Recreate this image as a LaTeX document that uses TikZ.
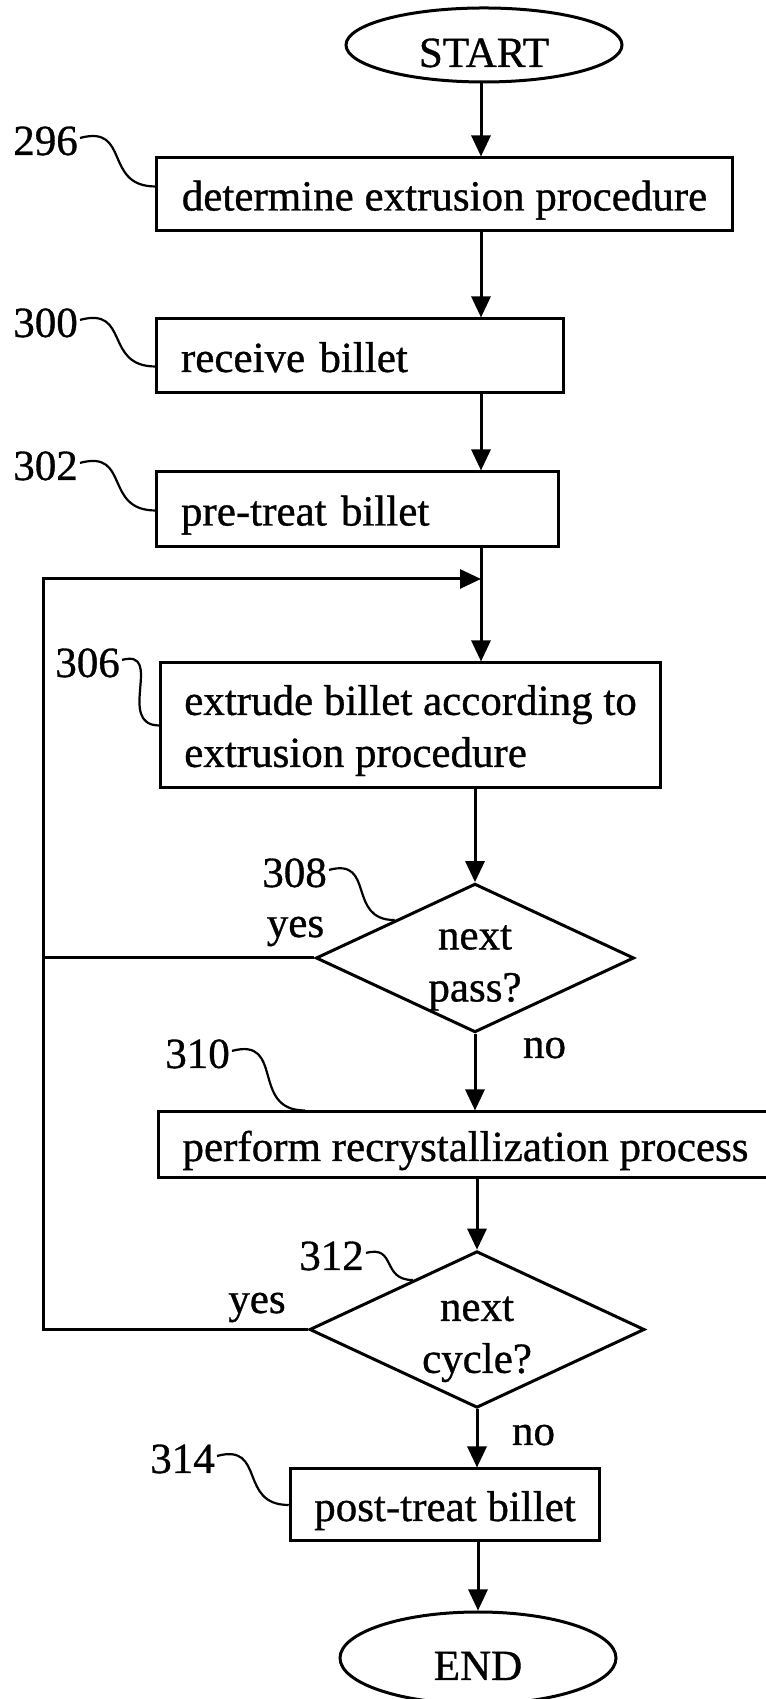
\documentclass[tikz,border=0pt]{standalone}
\usepackage{fontspec}
\setmainfont[FakeBold=0.8]{Liberation Serif}
\usetikzlibrary{shapes.geometric,arrows.meta,calc}
\begin{document}
\begin{tikzpicture}[x=1bp,y=1bp,
  every node/.style={font=\fontsize{43bp}{52bp}\selectfont},
  ln/.style={line width=3bp},
  arr/.style={ln,-{Triangle[length=21bp,width=19bp]}},
  lead/.style={line width=2.2bp},
  box/.style={draw,ln,rectangle,inner xsep=24bp,inner ysep=0bp,text height=32bp,text depth=0bp},
  term/.style={draw,ln,ellipse,inner sep=0bp,minimum width=276bp,text height=44bp,text depth=0bp},
  dec/.style={draw,ln,diamond,aspect=2.14,inner sep=0bp,minimum width=317bp,align=center},
  lbl/.style={inner sep=0bp,anchor=base east},
  ann/.style={inner sep=0bp,anchor=base},
  leadcurve/.style={lead,out=15,in=180,looseness=1.5}]
\useasboundingbox (0,0) rectangle (766,1699);

% main nodes
\node[term,minimum height=74bp] (start) at (484,1654) {START};
\node[box,minimum width=575bp,minimum height=73bp] (b296) at (444.5,1504.5) {determine extrusion procedure};
\node[box,minimum width=406bp,minimum height=74bp,text width=358bp,align=left] (b300) at (360,1343) {receive billet};
\node[box,minimum width=401bp,minimum height=75bp,text width=353bp,align=left] (b302) at (357.5,1189.5) {pre-treat billet};
\node[draw,ln,rectangle,inner xsep=22bp,inner ysep=0bp,minimum width=499bp,minimum height=125bp,align=left] (b306) at (410.5,973.5) {\rule{0pt}{40bp}extrude billet according to\\extrusion procedure};
\node[dec,minimum height=148bp] (d308) at (475,741) {\rule{0pt}{44bp}next\\pass?};
\node[box,anchor=west,minimum height=66bp] (b310) at (157,554) {perform recrystallization process};
\node[dec,minimum height=145bp] (d312) at (477,369.5) {\rule{0pt}{44bp}next\\cycle?};
\node[box,minimum width=306bp,minimum height=72bp] (b314) at (445,194) {post-treat billet};
\node[term,minimum height=92bp] (end) at (478,41) {END};

% reference numerals
\node[lbl] (l296) at (78,1544) {296};
\node[lbl] (l300) at (78,1362) {300};
\node[lbl] (l302) at (78,1219) {302};
\node[lbl] (l306) at (120,1022) {306};
\node[lbl] (l308) at (327,812) {308};
\node[lbl] (l310) at (230,631) {310};
\node[lbl] (l312) at (364,429) {312};
\node[lbl] (l314) at (215,226) {314};

% branch labels
\node[ann] (y308) at (295.5,762) {yes};
\node[ann] (n308) at (544.5,641) {no};
\node[ann] (y312) at (257,386) {yes};
\node[ann] (n312) at (533.5,254) {no};

% helper coordinates
\coordinate (colA) at (481,0);
\coordinate (loopx) at (43,0);
\coordinate (join) at (481,1120);

% connectors
\draw[arr] (start.south -| colA) -- (b296.north -| colA);
\draw[arr] (b296.south -| colA) -- (b300.north -| colA);
\draw[arr] (b300.south -| colA) -- (b302.north -| colA);
\draw[arr] (b302.south -| colA) -- (b306.north -| colA);
\draw[arr] (b306.south -| d308.north) -- (d308.north);
\draw[ln] (d308.west) -- (d308.west -| loopx);
\draw[arr] (d308.south) -- (d308.south |- b310.north);
\draw[arr] (b310.south -| d312.north) -- (d312.north);
\draw[arr] (d312.west) -- (d312.west -| loopx) |- (join);
\draw[arr] (d312.south) -- (d312.south |- b314.north);
\draw[arr] (b314.south -| end.north) -- (end.north);

% leader lines
\draw[leadcurve] ([xshift=2bp,yshift=3bp]l296.east) to ([yshift=-30bp]b296.north west);
\draw[leadcurve] ([xshift=2bp,yshift=3bp]l300.east) to ([yshift=-49bp]b300.north west);
\draw[leadcurve] ([xshift=2bp,yshift=3bp]l302.east) to ([yshift=-40bp]b302.north west);
\draw[leadcurve] ([xshift=2bp,yshift=3bp]l306.east) to (b306.west);
\draw[leadcurve] ([xshift=2bp,yshift=3bp]l308.east) to ($(d308.north)!0.5!(d308.west)$);
\draw[leadcurve] ([xshift=2bp,yshift=3bp]l310.east) to ([xshift=148bp]b310.north west);
\draw[leadcurve] ([xshift=2bp,yshift=3bp]l312.east) to ($(d312.north)!0.38!(d312.west)$);
\draw[leadcurve] ([xshift=2bp,yshift=3bp]l314.east) to (b314.west);
\end{tikzpicture}
\end{document}
